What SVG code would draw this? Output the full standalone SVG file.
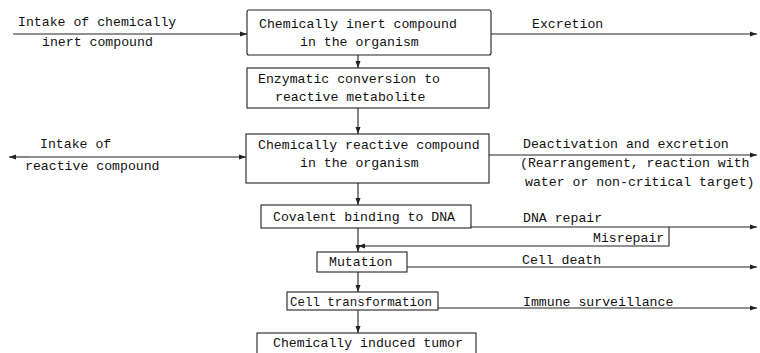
<svg xmlns="http://www.w3.org/2000/svg" width="760" height="353" viewBox="0 0 760 353">
<style>
text{font-family:"Liberation Mono","DejaVu Sans Mono",monospace;font-size:13.2px;fill:#111}
.box{fill:#fff;stroke:#222;stroke-width:1.1}
.c{fill:none;stroke:#222;stroke-width:1.1}
</style>
<defs>
<marker id="a" markerWidth="8" markerHeight="6" refX="7" refY="3" orient="auto" markerUnits="userSpaceOnUse">
<path d="M0,0.5 L7,3 L0,5.5 Z" fill="#222"/>
</marker>
</defs>
<rect width="760" height="353" fill="#fff"/>
<g id="connectors">
<line class="c" x1="13" y1="34" x2="247" y2="34" marker-end="url(#a)"/>
<line class="c" x1="491" y1="34" x2="757" y2="34" marker-end="url(#a)"/>
<line class="c" x1="358" y1="55" x2="358" y2="68" marker-end="url(#a)"/>
<line class="c" x1="358" y1="108" x2="358" y2="134" marker-end="url(#a)"/>
<line class="c" x1="30" y1="157" x2="246" y2="157" marker-end="url(#a)"/>
<line class="c" x1="30" y1="157" x2="9" y2="157" marker-end="url(#a)"/>
<line class="c" x1="489" y1="155" x2="757" y2="155" marker-end="url(#a)"/>
<line class="c" x1="358" y1="183" x2="358" y2="205" marker-end="url(#a)"/>
<line class="c" x1="471" y1="227" x2="757" y2="227" marker-end="url(#a)"/>
<polyline class="c" points="669,227 669,246 358,246" marker-end="url(#a)"/>
<line class="c" x1="358" y1="228" x2="358" y2="252" marker-end="url(#a)"/>
<line class="c" x1="407" y1="267" x2="757" y2="267" marker-end="url(#a)"/>
<line class="c" x1="358" y1="272" x2="358" y2="292" marker-end="url(#a)"/>
<line class="c" x1="438" y1="308" x2="757" y2="308" marker-end="url(#a)"/>
<line class="c" x1="358" y1="310" x2="358" y2="333" marker-end="url(#a)"/>
</g>
<g id="labels">
<text x="18" y="26">Intake of chemically</text>
<text x="42" y="46">inert compound</text>
<text x="532" y="28">Excretion</text>
<text x="40" y="148">Intake of</text>
<text x="25" y="170">reactive compound</text>
<text x="523" y="148">Deactivation and excretion</text>
<text x="520" y="167">(Rearrangement, reaction with</text>
<text x="525" y="186">water or non-critical target)</text>
<text x="523" y="222">DNA repair</text>
<text x="593" y="242">Misrepair</text>
<text x="522" y="264">Cell death</text>
<text x="523" y="306">Immune surveillance</text>
</g>
<g id="n1">
<rect class="box" x="247" y="10" width="244" height="45" rx="2"/>
<text x="259" y="28">Chemically inert compound</text>
<text x="300" y="46">in the organism</text>
</g>
<g id="n2">
<rect class="box" x="247" y="68" width="242" height="40"/>
<text x="258" y="83">Enzymatic conversion to</text>
<text x="275" y="101">reactive metabolite</text>
</g>
<g id="n3">
<rect class="box" x="246" y="134" width="243" height="49"/>
<text x="258" y="149">Chemically reactive compound</text>
<text x="300" y="167">in the organism</text>
</g>
<g id="n4">
<rect class="box" x="261" y="205" width="210" height="23"/>
<text x="273" y="221">Covalent binding to DNA</text>
</g>
<g id="n5">
<rect class="box" x="317" y="252" width="90" height="20"/>
<text x="329" y="266">Mutation</text>
</g>
<g id="n6">
<rect class="box" x="287" y="292" width="151" height="18"/>
<text x="290" y="306" textLength="142" lengthAdjust="spacingAndGlyphs">Cell transformation</text>
</g>
<g id="n7">
<rect class="box" x="257" y="333" width="219" height="30"/>
<text x="273" y="347">Chemically induced tumor</text>
</g>
</svg>
